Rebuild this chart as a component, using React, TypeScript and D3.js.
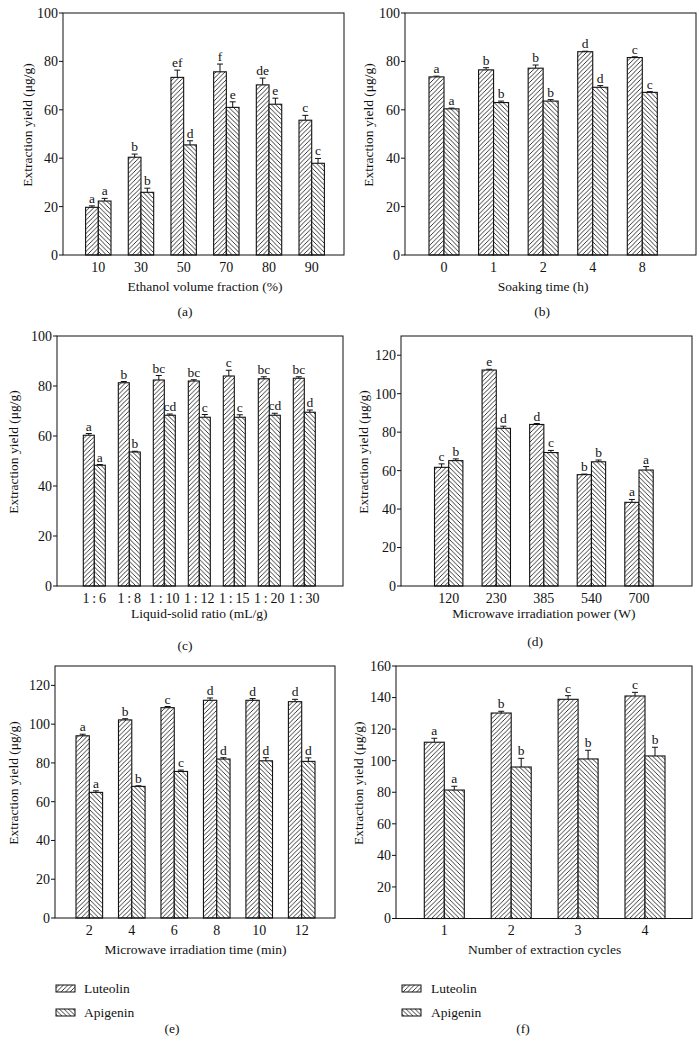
import React from 'react';
import * as d3 from 'd3';

// (a) ethanol volume fraction
const ethanolCats = ['10', '30', '50', '70', '80', '90'];
const ethanolLut = [19.7, 40.4, 73.4, 75.7, 70.3, 55.7];
const ethanolLutErr = [0.6, 1.3, 3.0, 3.2, 2.8, 2.0];
const ethanolApi = [22.3, 25.9, 45.5, 61.0, 62.3, 37.9];
const ethanolApiErr = [1.1, 1.7, 1.7, 2.3, 2.5, 2.0];
const ethanolLutSig = ['a', 'b', 'ef', 'f', 'de', 'c'];
const ethanolApiSig = ['a', 'b', 'd', 'e', 'e', 'c'];

// (b) soaking time
const soakCats = ['0', '1', '2', '4', '8'];
const soakLut = [73.6, 76.5, 77.2, 84.0, 81.6];
const soakLutErr = [0.3, 0.9, 1.3, 0.2, 0.3];
const soakApi = [60.4, 63.0, 63.6, 69.3, 67.2];
const soakApiErr = [0.3, 0.6, 0.6, 0.7, 0.3];
const soakLutSig = ['a', 'b', 'b', 'd', 'c'];
const soakApiSig = ['a', 'b', 'b', 'd', 'c'];

// (c) liquid-solid ratio
const ratioCats = ['1\u2009:\u20096', '1\u2009:\u20098', '1\u2009:\u200910', '1\u2009:\u200912', '1\u2009:\u200915', '1\u2009:\u200920', '1\u2009:\u200930'];
const ratioLut = [60.3, 81.3, 82.4, 82.0, 84.0, 82.9, 83.1];
const ratioLutErr = [0.7, 0.5, 1.8, 0.5, 2.3, 0.8, 0.6];
const ratioApi = [48.3, 53.6, 68.3, 67.5, 67.5, 68.3, 69.5];
const ratioApiErr = [0.3, 0.3, 0.5, 1.1, 1.0, 0.8, 0.9];
const ratioLutSig = ['a', 'b', 'bc', 'bc', 'c', 'bc', 'bc'];
const ratioApiSig = ['a', 'b', 'cd', 'c', 'c', 'cd', 'd'];

// (d) microwave power
const powerCats = ['120', '230', '385', '540', '700'];
const powerLut = [61.7, 112.3, 84.0, 57.9, 43.5];
const powerLutErr = [1.8, 0.4, 0.5, 0.3, 1.5];
const powerApi = [65.2, 82.0, 69.4, 64.6, 60.3];
const powerApiErr = [0.9, 1.1, 1.1, 0.9, 1.8];
const powerLutSig = ['c', 'e', 'd', 'b', 'a'];
const powerApiSig = ['b', 'd', 'c', 'b', 'a'];

// (e) microwave time
const timeCats = ['2', '4', '6', '8', '10', '12'];
const timeLut = [94.0, 102.2, 108.5, 112.3, 112.3, 111.6];
const timeLutErr = [0.8, 0.6, 0.6, 1.2, 0.9, 1.2];
const timeApi = [64.8, 67.9, 75.6, 82.0, 81.1, 80.8];
const timeApiErr = [0.8, 0.3, 0.7, 0.7, 1.6, 1.8];
const timeLutSig = ['a', 'b', 'c', 'd', 'd', 'd'];
const timeApiSig = ['a', 'b', 'c', 'd', 'd', 'd'];

// (f) extraction cycles
const cycleCats = ['1', '2', '3', '4'];
const cycleLut = [111.7, 130.2, 138.9, 141.0];
const cycleLutErr = [2.5, 1.1, 2.3, 2.3];
const cycleApi = [81.4, 96.0, 101.1, 103.0];
const cycleApiErr = [2.4, 5.5, 5.5, 5.5];
const cycleLutSig = ['a', 'b', 'c', 'c'];
const cycleApiSig = ['a', 'b', 'b', 'b'];

const seriesNames = ['Luteolin', 'Apigenin'];
const yTitle = 'Extraction yield (\u03bcg/g)';

const FONT = '"Liberation Serif", "Times New Roman", serif';
const FS = 13.5; // titles, letters
const TFS = 14; // tick labels

const panels = [
  {
    id: 'a', cats: ethanolCats, lut: ethanolLut, lutErr: ethanolLutErr, api: ethanolApi, apiErr: ethanolApiErr,
    lutSig: ethanolLutSig, apiSig: ethanolApiSig, xTitle: 'Ethanol volume fraction (%)',
    frame: [63, 344, 13, 255], centers: [98.3, 311.7], barW: 12.7, yMax: 100, tickMax: 100, yLabelX: 27,
    titleGap: 35.5, caption: [185, 316],
  },
  {
    id: 'b', cats: soakCats, lut: soakLut, lutErr: soakLutErr, api: soakApi, apiErr: soakApiErr,
    lutSig: soakLutSig, apiSig: soakApiSig, xTitle: 'Soaking time (h)',
    frame: [405, 696, 13, 255], centers: [444, 642.3], barW: 15, yMax: 100, tickMax: 100, yLabelX: 368,
    titleGap: 35.5, caption: [542, 316],
  },
  {
    id: 'c', cats: ratioCats, lut: ratioLut, lutErr: ratioLutErr, api: ratioApi, apiErr: ratioApiErr,
    lutSig: ratioLutSig, apiSig: ratioApiSig, xTitle: 'Liquid-solid ratio (mL/g)',
    frame: [57, 343, 336, 586], centers: [94.3, 304.3], barW: 11, yMax: 100, tickMax: 100, yLabelX: 13,
    titleGap: 32, caption: [185, 650],
  },
  {
    id: 'd', cats: powerCats, lut: powerLut, lutErr: powerLutErr, api: powerApi, apiErr: powerApiErr,
    lutSig: powerLutSig, apiSig: powerApiSig, xTitle: 'Microwave irradiation power (W)',
    frame: [401, 692, 336, 586], centers: [448.7, 639], barW: 14.2, yMax: 130, tickMax: 120, yLabelX: 363,
    titleGap: 32, caption: [535, 646],
  },
  {
    id: 'e', cats: timeCats, lut: timeLut, lutErr: timeLutErr, api: timeApi, apiErr: timeApiErr,
    lutSig: timeLutSig, apiSig: timeApiSig, xTitle: 'Microwave irradiation time (min)',
    frame: [55, 335, 666, 918], centers: [89.3, 301.7], barW: 13.3, yMax: 130, tickMax: 120, yLabelX: 13,
    titleGap: 35.5, caption: [172, 1033], legend: [56, 84],
  },
  {
    id: 'f', cats: cycleCats, lut: cycleLut, lutErr: cycleLutErr, api: cycleApi, apiErr: cycleApiErr,
    lutSig: cycleLutSig, apiSig: cycleApiSig, xTitle: 'Number of extraction cycles',
    frame: [396, 692, 666, 918.5], centers: [444.3, 645], barW: 20, yMax: 160, tickMax: 160, yLabelX: 358,
    titleGap: 35.5, caption: [523, 1033], legend: [402, 431],
  },
];

const Panel = ({ p }) => {
  const [x0, x1, y0, y1] = p.frame;
  const x = d3.scalePoint().domain(p.cats).range(p.centers);
  const y = d3.scaleLinear().domain([0, p.yMax]).range([y1, y0]);
  const ticks = d3.range(0, p.tickMax + 1, 20);
  const midX = (p.centers[0] + p.centers[1]) / 2;
  const series = [
    { vals: p.lut, errs: p.lutErr, sig: p.lutSig, fill: 'url(#hatchL)', off: -p.barW },
    { vals: p.api, errs: p.apiErr, sig: p.apiSig, fill: 'url(#hatchA)', off: 0 },
  ];
  const cap = 3;

  return (
    <g>
      {series.map((s, si) =>
        p.cats.map((c, i) => {
          const bx = x(c) + s.off;
          const cx = bx + p.barW / 2;
          const top = y(s.vals[i]);
          const etop = y(s.vals[i] + s.errs[i]);
          return (
            <g key={`${si}-${i}`}>
              <line x1={cx} x2={cx} y1={top} y2={etop} stroke="#111" strokeWidth={1} />
              <line x1={cx - cap} x2={cx + cap} y1={etop} y2={etop} stroke="#111" strokeWidth={1} />
              <rect x={bx} y={top} width={p.barW} height={y1 - top} fill={s.fill} stroke="#111" strokeWidth={1.1} />
              <text x={cx} y={etop - 3} textAnchor="middle" fontSize={FS}>
                {s.sig[i]}
              </text>
            </g>
          );
        })
      )}
      <rect x={x0} y={y0} width={x1 - x0} height={y1 - y0} fill="none" stroke="#111" strokeWidth={1} />
      {ticks.map((t) => (
        <g key={t}>
          <line x1={x0 - 4} x2={x0} y1={y(t)} y2={y(t)} stroke="#111" strokeWidth={1} />
          <text x={x0 - 5} y={y(t)} dy="0.35em" textAnchor="end" fontSize={TFS}>
            {t}
          </text>
        </g>
      ))}
      {p.cats.map((c) => (
        <text key={c} x={x(c)} y={y1 + 16.5} textAnchor="middle" fontSize={TFS}>
          {c}
        </text>
      ))}
      <text x={midX} y={y1 + p.titleGap} textAnchor="middle" fontSize={FS}>
        {p.xTitle}
      </text>
      <text
        transform={`translate(${p.yLabelX},${(y0 + y1) / 2 - 9}) rotate(-90)`}
        textAnchor="middle"
        dy="0.35em"
        fontSize={FS}
      >
        {yTitle}
      </text>
      <text x={p.caption[0]} y={p.caption[1]} textAnchor="middle" fontSize={FS}>
        ({p.id})
      </text>
      {p.legend &&
        seriesNames.map((n, i) => (
          <g key={n}>
            <rect
              x={p.legend[0]}
              y={985 + i * 24}
              width={19}
              height={7}
              fill={i === 0 ? 'url(#hatchL)' : 'url(#hatchA)'}
              stroke="#111"
              strokeWidth={1}
            />
            <text x={p.legend[1]} y={988.5 + i * 24} dy="0.35em" fontSize={FS}>
              {n}
            </text>
          </g>
        ))}
    </g>
  );
};

export default function App() {
  return (
    <div style={{ position: 'absolute', left: 0, top: 0 }}>
      <svg width={700} height={1039} style={{ display: 'block', background: '#fff', fontFamily: FONT }} fill="#111">
        <defs>
          <pattern id="hatchL" patternUnits="userSpaceOnUse" width={4.5} height={4.5}>
            <rect width={4.5} height={4.5} fill="#fff" />
            <path d="M0,4.5 L4.5,0 M-1,1 L1,-1 M3.5,5.5 L5.5,3.5" stroke="#222" strokeWidth={0.9} />
          </pattern>
          <pattern id="hatchA" patternUnits="userSpaceOnUse" width={4.5} height={4.5}>
            <rect width={4.5} height={4.5} fill="#fff" />
            <path d="M0,0 L4.5,4.5 M-1,3.5 L1,5.5 M3.5,-1 L5.5,1" stroke="#222" strokeWidth={0.9} />
          </pattern>
        </defs>
        {panels.map((p) => (
          <Panel key={p.id} p={p} />
        ))}
      </svg>
    </div>
  );
}
